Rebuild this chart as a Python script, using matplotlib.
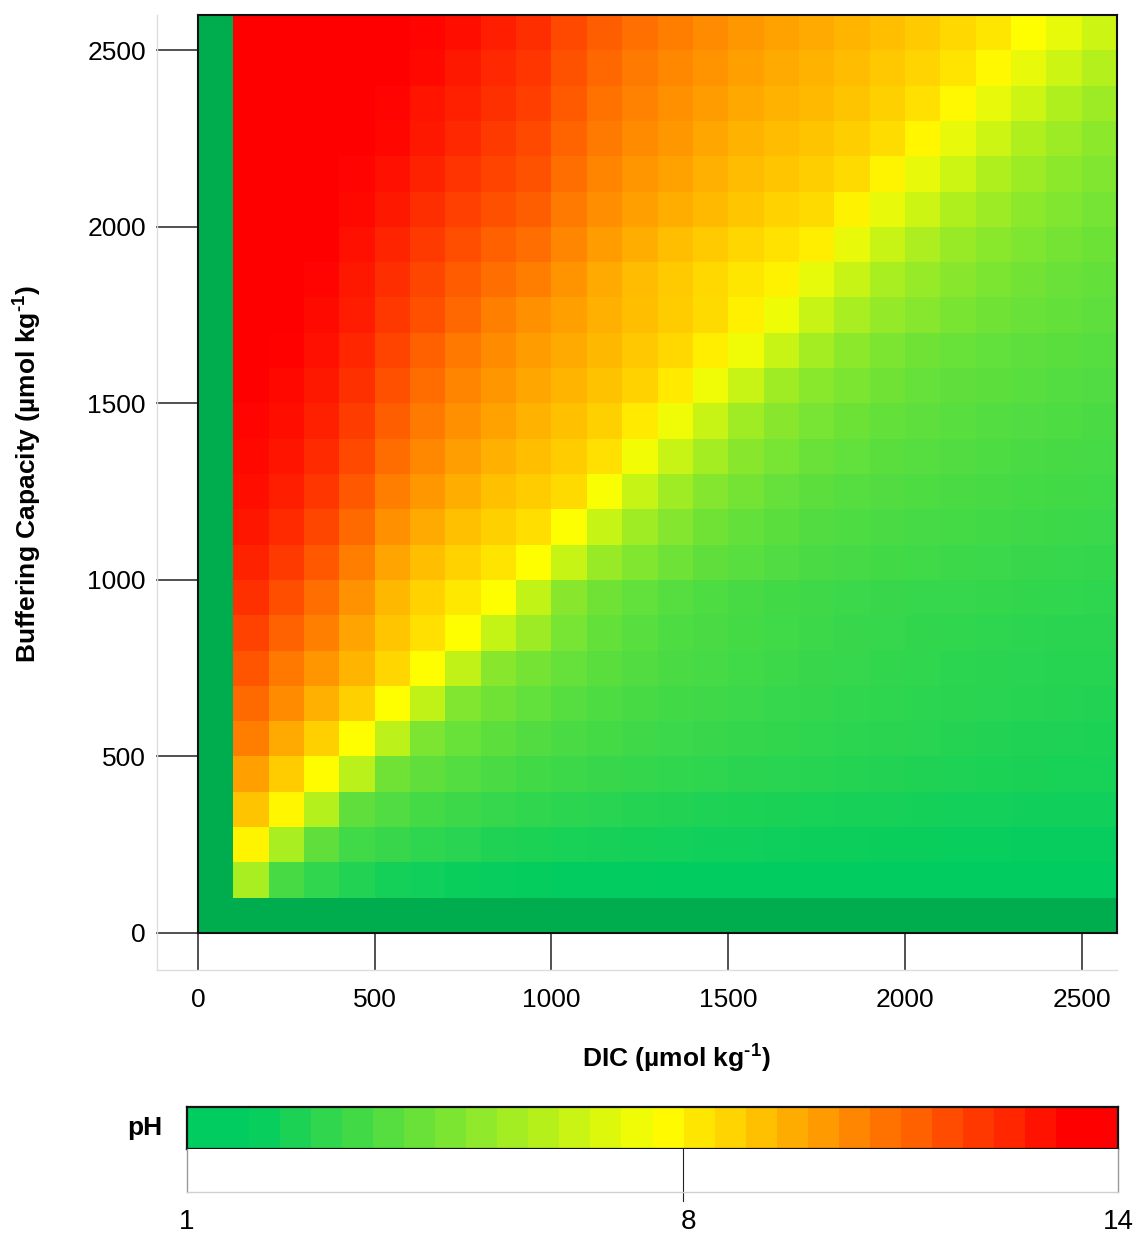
import numpy as np
import matplotlib
matplotlib.use('Agg')
import matplotlib.pyplot as plt
from matplotlib.colors import LinearSegmentedColormap, Normalize
from matplotlib.lines import Line2D

plt.rcParams['font.family'] = ['Liberation Sans', 'DejaVu Sans']
plt.rcParams['mathtext.fontset'] = 'custom'
plt.rcParams['mathtext.rm'] = 'Liberation Sans'
plt.rcParams['mathtext.bf'] = 'Liberation Sans:bold'

# grid values (umol/kg); the 0 row and column have no pH
dic = [0, 100, 200, 300, 400, 500, 600, 700, 800, 900, 1000, 1100, 1200,
       1300, 1400, 1500, 1600, 1700, 1800, 1900, 2000, 2100, 2200, 2300, 2400, 2500]
buffering = [0, 100, 200, 300, 400, 500, 600, 700, 800, 900, 1000, 1100, 1200,
             1300, 1400, 1500, 1600, 1700, 1800, 1900, 2000, 2100, 2200, 2300, 2400, 2500]
axis_ticks = [0, 500, 1000, 1500, 2000, 2500]
ph_ticks = [1, 8, 14]

# pH; one row per buffering capacity (100 .. 2500),
# columns are DIC 100 .. 2500
ph_rows = [
    [5.3, 2.84, 2.22, 1.87, 1.55, 1.41, 1.28, 1.18, 1.13, 1.1, 1.08, 1.06, 1.05, 1.04, 1.03, 1.02, 1.01, 1.0, 1.0, 1.0, 1.0, 1.0, 1.0, 1.0, 1.0],
    [7.8, 5.3, 3.45, 2.63, 2.43, 2.17, 2.02, 1.82, 1.72, 1.64, 1.57, 1.52, 1.48, 1.45, 1.42, 1.39, 1.35, 1.32, 1.29, 1.27, 1.25, 1.22, 1.2, 1.18, 1.16],
    [9.0, 7.75, 5.6, 3.45, 3.05, 2.75, 2.55, 2.4, 2.25, 2.12, 2.02, 1.94, 1.87, 1.81, 1.75, 1.69, 1.64, 1.6, 1.56, 1.53, 1.5, 1.47, 1.45, 1.43, 1.41],
    [9.9, 8.8, 7.6, 5.75, 3.85, 3.45, 3.15, 2.89, 2.7, 2.55, 2.44, 2.34, 2.26, 2.18, 2.11, 2.05, 1.99, 1.93, 1.88, 1.83, 1.78, 1.74, 1.69, 1.65, 1.61],
    [10.75, 9.65, 8.7, 7.55, 5.8, 4.16, 3.65, 3.35, 3.1, 2.9, 2.74, 2.62, 2.52, 2.43, 2.35, 2.28, 2.21, 2.14, 2.08, 2.02, 1.96, 1.91, 1.86, 1.81, 1.76],
    [11.3, 10.4, 9.5, 8.7, 7.55, 5.9, 4.26, 3.85, 3.5, 3.2, 3.0, 2.85, 2.72, 2.6, 2.5, 2.42, 2.34, 2.26, 2.19, 2.13, 2.07, 2.02, 1.97, 1.92, 1.87],
    [11.85, 10.95, 10.15, 9.4, 8.55, 7.55, 5.9, 4.5, 3.95, 3.6, 3.3, 3.1, 2.92, 2.78, 2.66, 2.56, 2.47, 2.38, 2.3, 2.23, 2.16, 2.1, 2.05, 2.01, 1.97],
    [12.3, 11.5, 10.7, 9.8, 8.95, 8.29, 7.55, 6.0, 5.0, 4.05, 3.55, 3.25, 3.02, 2.88, 2.76, 2.66, 2.56, 2.46, 2.38, 2.31, 2.25, 2.19, 2.14, 2.1, 2.07],
    [12.75, 12.0, 11.2, 10.25, 9.3, 8.65, 8.1, 7.55, 5.95, 4.47, 3.85, 3.5, 3.19, 2.99, 2.84, 2.68, 2.58, 2.52, 2.47, 2.42, 2.38, 2.33, 2.27, 2.22, 2.17],
    [13.1, 12.5, 11.75, 10.8, 9.82, 9.16, 8.65, 8.2, 7.5, 6.05, 4.87, 4.26, 3.8, 3.45, 3.24, 3.04, 2.89, 2.78, 2.68, 2.63, 2.53, 2.48, 2.43, 2.38, 2.33],
    [13.4, 12.9, 12.2, 11.3, 10.33, 9.67, 9.11, 8.7, 8.35, 7.4, 6.05, 5.08, 4.36, 3.85, 3.55, 3.29, 3.09, 2.99, 2.89, 2.78, 2.73, 2.68, 2.58, 2.53, 2.48],
    [13.6, 13.2, 12.6, 11.75, 10.79, 10.13, 9.57, 9.11, 8.8, 8.45, 7.37, 6.05, 5.08, 4.36, 3.96, 3.6, 3.35, 3.19, 3.09, 2.99, 2.89, 2.84, 2.73, 2.68, 2.63],
    [13.75, 13.45, 12.9, 12.15, 11.25, 10.53, 9.97, 9.51, 9.15, 8.8, 8.3, 7.17, 6.1, 5.18, 4.47, 4.06, 3.7, 3.5, 3.29, 3.19, 3.09, 2.99, 2.89, 2.84, 2.78],
    [13.85, 13.6, 13.15, 12.47, 11.6, 10.89, 10.33, 9.87, 9.45, 9.1, 8.7, 8.04, 7.12, 6.1, 5.08, 4.47, 4.06, 3.75, 3.55, 3.4, 3.24, 3.14, 3.04, 2.99, 2.89],
    [13.95, 13.75, 13.35, 12.78, 11.96, 11.25, 10.64, 10.18, 9.75, 9.4, 9.05, 8.65, 8.04, 7.12, 6.1, 5.08, 4.52, 4.16, 3.85, 3.6, 3.45, 3.35, 3.24, 3.14, 3.04],
    [14.0, 13.9, 13.55, 13.0, 12.27, 11.55, 10.94, 10.43, 10.0, 9.65, 9.3, 8.9, 8.49, 7.95, 7.12, 6.1, 5.18, 4.57, 4.16, 3.85, 3.65, 3.5, 3.4, 3.29, 3.19],
    [14.0, 14.0, 13.72, 13.24, 12.57, 11.96, 11.35, 10.74, 10.3, 9.92, 9.5, 9.15, 8.8, 8.45, 7.9, 7.05, 6.1, 5.28, 4.77, 4.42, 4.11, 3.85, 3.7, 3.55, 3.4],
    [14.0, 14.0, 13.86, 13.39, 12.83, 12.22, 11.65, 11.2, 10.8, 10.2, 9.67, 9.21, 8.85, 8.49, 8.14, 7.85, 6.86, 6.1, 5.28, 4.82, 4.47, 4.16, 3.91, 3.7, 3.55],
    [14.0, 14.0, 14.0, 13.59, 13.08, 12.52, 12.01, 11.55, 11.2, 10.55, 10.0, 9.55, 9.16, 8.85, 8.55, 8.25, 7.93, 6.91, 6.1, 5.39, 4.87, 4.52, 4.21, 3.96, 3.75],
    [14.0, 14.0, 14.0, 13.75, 13.34, 12.83, 12.37, 11.96, 11.6, 10.9, 10.35, 9.9, 9.55, 9.25, 8.95, 8.65, 8.42, 7.83, 6.91, 6.2, 5.49, 4.98, 4.57, 4.26, 4.01],
    [14.0, 14.0, 14.0, 13.85, 13.59, 13.13, 12.67, 12.24, 11.91, 11.2, 10.6, 10.18, 9.87, 9.51, 9.21, 8.95, 8.75, 8.45, 7.78, 6.91, 6.2, 5.49, 4.98, 4.57, 4.26],
    [14.0, 14.0, 14.0, 13.95, 13.8, 13.34, 12.98, 12.52, 12.16, 11.45, 10.89, 10.43, 10.13, 9.77, 9.46, 9.21, 9.0, 8.75, 8.4, 7.73, 6.91, 6.2, 5.49, 4.98, 4.57],
    [14.0, 14.0, 14.0, 14.0, 13.87, 13.49, 13.18, 12.78, 12.42, 11.7, 11.1, 10.69, 10.33, 10.03, 9.72, 9.46, 9.26, 9.0, 8.7, 8.29, 7.68, 6.91, 6.2, 5.49, 4.98],
    [14.0, 14.0, 14.0, 14.0, 14.0, 13.75, 13.39, 12.98, 12.62, 11.9, 11.35, 10.89, 10.53, 10.23, 9.92, 9.67, 9.46, 9.21, 8.9, 8.6, 8.19, 7.68, 6.91, 6.2, 5.59],
    [14.0, 14.0, 14.0, 14.0, 14.0, 13.87, 13.64, 13.2, 12.8, 12.15, 11.6, 11.15, 10.75, 10.43, 10.13, 9.87, 9.67, 9.41, 9.16, 8.85, 8.49, 8.14, 7.55, 6.86, 6.2],
]

ph = np.full((len(buffering), len(dic)), np.nan)
ph[1:, 1:] = np.array(ph_rows)

cmap = LinearSegmentedColormap.from_list('ph', ['#00CC60', '#FFFF00', '#FF0000'])
cmap.set_bad('#00AD4E')
norm = Normalize(vmin=1, vmax=14)

W, H = 1139, 1234
fig = plt.figure(figsize=(W / 100, H / 100), dpi=100)

def box(x0, y0, x1, y1):
    # pixel box (top-left origin) -> figure fraction
    return [x0 / W, 1 - y1 / H, (x1 - x0) / W, (y1 - y0) / H]

# light frame around the axis area
fig.add_artist(Line2D([156.5 / W, 156.5 / W], [1 - 15 / H, 1 - 970 / H],
                      transform=fig.transFigure, color='#dddddd', lw=1))
fig.add_artist(Line2D([156.5 / W, 1117 / W], [1 - 970 / H, 1 - 970 / H],
                      transform=fig.transFigure, color='#dddddd', lw=1))

ax = fig.add_axes(box(198, 15, 1117, 933))
x_edges = np.append(dic, dic[-1] + 100)
y_edges = np.append(buffering, buffering[-1] + 100)
ax.pcolormesh(x_edges, y_edges, np.ma.masked_invalid(ph), cmap=cmap, norm=norm,
              shading='flat', antialiased=False, linewidth=0)
ax.set_xlim(x_edges[0], x_edges[-1])
ax.set_ylim(y_edges[0], y_edges[-1])
for s in ax.spines.values():
    s.set_color('#111111')
    s.set_linewidth(1.5)
ax.set_xticks(axis_ticks)
ax.set_yticks(axis_ticks)
ax.tick_params(axis='x', length=26.6, width=1.2, color='#333333', pad=13, labelsize=19)
ax.tick_params(axis='y', length=29.9, width=1.2, color='#333333', pad=7.7, labelsize=19)

unit = r'(µmol kg$^{\mathbf{‐1}}$)'
fig.text(676 / W, 1 - 1058 / H, 'DIC ' + unit, fontsize=19,
         fontweight='bold', ha='center', va='center')
fig.text(27 / W, 1 - 474 / H, 'Buffering Capacity ' + unit, fontsize=19,
         fontweight='bold', ha='center', va='center', rotation=90)

# colour bar: 30 steps, ends held at pure green / pure red as in the original
n_bins = 30
cb_edges = np.linspace(ph_ticks[0], ph_ticks[-1], n_bins + 1)
cb_frac = np.clip((np.arange(n_bins) - 1.5) / (n_bins - 3.5), 0, 1)
cb_vals = ph_ticks[0] + cb_frac * (ph_ticks[-1] - ph_ticks[0])
cax = fig.add_axes(box(187, 1107, 1118, 1149))
cax.pcolormesh(cb_edges, [0, 1], cb_vals[None, :], cmap=cmap, norm=norm,
               shading='flat', antialiased=False, linewidth=0)
cax.set_xlim(cb_edges[0], cb_edges[-1])
cax.set_xticks([])
cax.set_yticks([])
for s in cax.spines.values():
    s.set_color('#111111')
    s.set_linewidth(1.6)

bax = fig.add_axes(box(187, 1149, 1118, 1192))
bax.set_xlim(ph_ticks[0], ph_ticks[-1])
bax.set_ylim(0, 1)
bax.spines['top'].set_visible(False)
bax.spines['left'].set_color('#999999')
bax.spines['right'].set_color('#999999')
bax.spines['bottom'].set_color('#d0d0d0')
for s in bax.spines.values():
    s.set_linewidth(1)
bax.set_yticks([])
bax.set_xticks(ph_ticks)
bax.tick_params(axis='x', length=0, pad=12, labelsize=20)
bax.plot([7.92, 7.92], [-0.21, 1], color='#222222', lw=0.8, clip_on=False)

fig.text(145 / W, 1 - 1128 / H, 'pH', fontsize=19, fontweight='bold',
         ha='center', va='center')

fig.savefig('out.png', dpi=100)
